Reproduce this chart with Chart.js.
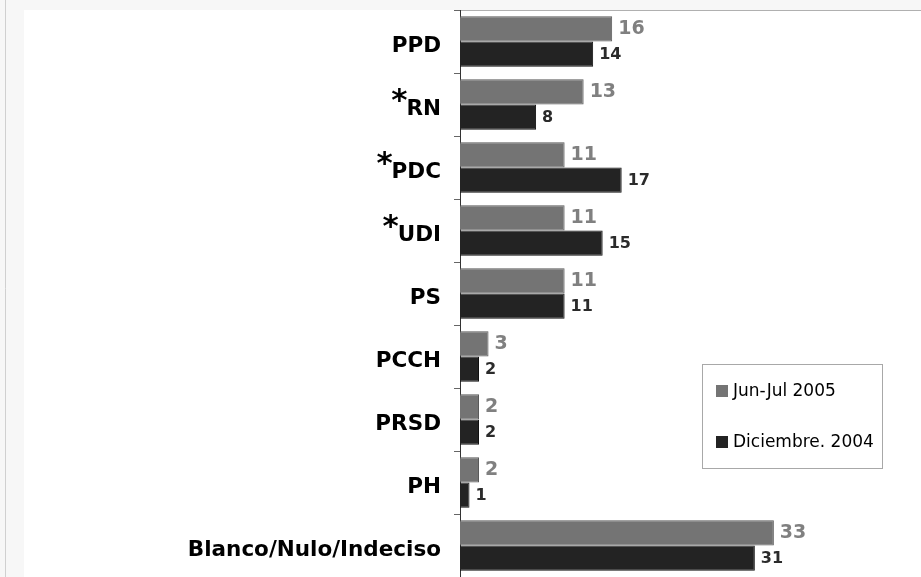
<!DOCTYPE html>
<html>
<head>
<meta charset="utf-8">
<script src="https://cdn.jsdelivr.net/npm/chart.js@4.4.0/dist/chart.umd.min.js"></script>
<style>
  html, body { margin: 0; padding: 0; background: #fff; }
  canvas { display: block; }
</style>
</head>
<body>
<canvas id="grafico" width="921" height="577"></canvas>
<script>
// Datos
const categorias = ['PPD', '*RN', '*PDC', '*UDI', 'PS', 'PCCH', 'PRSD', 'PH', 'Blanco/Nulo/Indeciso'];
const junJul2005 = [16, 13, 11, 11, 11, 3, 2, 2, 33];
const diciembre2004 = [14, 8, 17, 15, 11, 2, 2, 1, 31];
const nombresSeries = ['Jun-Jul 2005', 'Diciembre. 2004'];

const FONT = '"DejaVu Sans", Verdana, sans-serif';
const colores = ['#747474', '#232323'];
const bordes = ['#5a5a5a', '#111111'];

// Fondo, etiquetas de categorías, valores y leyenda dibujados a mano
const extras = {
    id: 'extras',
    beforeDraw(chart) {
        const ctx = chart.ctx;
        ctx.save();
        ctx.fillStyle = '#f7f7f7';
        ctx.fillRect(0, 0, chart.width, chart.height);
        ctx.fillStyle = '#ffffff';
        ctx.fillRect(24, 10, chart.width - 24, chart.height - 10);
        ctx.strokeStyle = '#d0d0d0';
        ctx.beginPath(); ctx.moveTo(5.5, 0); ctx.lineTo(5.5, chart.height); ctx.stroke();
        ctx.strokeStyle = '#b0b0b0';
        ctx.beginPath(); ctx.moveTo(455, 10.5); ctx.lineTo(chart.width, 10.5); ctx.stroke();
        ctx.restore();
    },
    afterDatasetsDraw(chart) {
        const ctx = chart.ctx;
        ctx.save();
        ctx.textBaseline = 'middle';
        ctx.textAlign = 'left';
        chart.data.datasets.forEach((ds, i) => {
            const meta = chart.getDatasetMeta(i);
            ctx.font = i === 0 ? 'bold 19px ' + FONT : 'bold 16px ' + FONT;
            ctx.fillStyle = i === 0 ? '#808080' : '#2b2b2b';
            meta.data.forEach((bar, j) => {
                ctx.fillText(String(ds.data[j]), bar.x + 6, bar.y + (i === 0 ? 0 : 1));
            });
        });
        ctx.restore();
    },
    afterDraw(chart) {
        const ctx = chart.ctx;
        const y = chart.scales.y;
        const xDer = chart.chartArea.left - 19;
        ctx.save();
        ctx.fillStyle = '#000';
        ctx.textAlign = 'right';
        ctx.textBaseline = 'alphabetic';
        chart.data.labels.forEach((lab, i) => {
            const yc = y.getPixelForValue(i);
            const base = yc + 10;
            let texto = lab;
            ctx.font = 'bold 21.5px ' + FONT;
            if (lab.startsWith('*')) {
                texto = lab.slice(1);
                ctx.fillText(texto, xDer, base);
                const w = ctx.measureText(texto).width;
                ctx.font = 'bold 31px ' + FONT;
                ctx.fillText('*', xDer - w + 1, base - 5);
            } else {
                ctx.fillText(texto, xDer, base);
            }
        });

        // Leyenda
        ctx.strokeStyle = '#a8a8a8';
        ctx.lineWidth = 1;
        ctx.strokeRect(702.5, 364.5, 180, 104);
        ctx.textAlign = 'left';
        ctx.textBaseline = 'middle';
        ctx.font = '17px ' + FONT;
        const filas = [391, 442];
        chart.data.datasets.forEach((ds, i) => {
            ctx.fillStyle = colores[i];
            ctx.fillRect(716, filas[i] - 6, 12, 12);
            ctx.fillStyle = '#000';
            ctx.fillText(ds.label, 733, filas[i] + 1);
        });
        ctx.restore();
    }
};

new Chart(document.getElementById('grafico'), {
    type: 'bar',
    data: {
        labels: categorias,
        datasets: [
            {
                label: nombresSeries[0],
                data: junJul2005,
                backgroundColor: colores[0],
                borderColor: bordes[0],
                borderWidth: 1,
                categoryPercentage: 0.8,
                barPercentage: 1.0
            },
            {
                label: nombresSeries[1],
                data: diciembre2004,
                backgroundColor: colores[1],
                borderColor: bordes[1],
                borderWidth: 1,
                categoryPercentage: 0.8,
                barPercentage: 1.0
            }
        ]
    },
    options: {
        responsive: false,
        animation: false,
        indexAxis: 'y',
        layout: { padding: { left: 454, top: 10, right: 33, bottom: 0 } },
        plugins: {
            legend: { display: false },
            tooltip: { enabled: false }
        },
        scales: {
            x: { display: false, min: 0, max: 45 },
            y: {
                offset: true,
                ticks: { display: false },
                grid: {
                    display: true,
                    offset: true,
                    drawOnChartArea: false,
                    drawTicks: true,
                    tickLength: 6,
                    color: '#666'
                },
                border: { display: true, color: '#333', width: 1 }
            }
        }
    },
    plugins: [extras]
});
</script>
</body>
</html>
